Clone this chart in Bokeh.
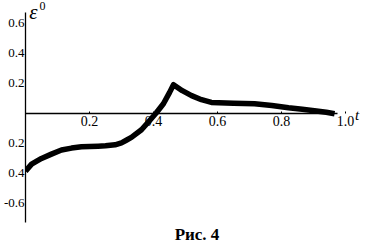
from bokeh.plotting import figure
from bokeh.models import LinearAxis, FixedTicker, Range1d, Label, Title
from bokeh.embed import file_html
from bokeh.resources import INLINE

# data
t = [0.0, 0.019, 0.05, 0.081, 0.1125, 0.144, 0.175, 0.227, 0.25, 0.28, 0.30, 0.315, 0.331, 0.3625,
     0.3875, 0.409, 0.431, 0.45, 0.4625, 0.49, 0.519, 0.55, 0.581, 0.65, 0.716,
     0.77, 0.822, 0.865, 0.903, 0.94, 0.966]
eps = [-0.385, -0.339, -0.301, -0.272, -0.245, -0.232, -0.223, -0.219, -0.217, -0.21, -0.197, -0.18, -0.161, -0.11,
       -0.05, 0.003, 0.063, 0.137, 0.19, 0.15, 0.117, 0.09, 0.072, 0.066, 0.063,
       0.052, 0.037, 0.027, 0.017, 0.007, -0.003]
x_ticks = [0.2, 0.4, 0.6, 0.8, 1.0]
x_tick_labels = ["0.2", "0.4", "0.6", "0.8", "1.0"]
y_ticks = [-0.6, -0.4, -0.2, 0.2, 0.4, 0.6]
y_tick_labels = ["-0.6", "0.4", "0.2", "0.2", "0.4", "0.6"]

FONT = "Liberation Serif"

p = figure(frame_width=343, frame_height=222, output_backend="svg", toolbar_location=None,
           x_range=Range1d(0, 1.072), y_range=Range1d(-0.727, 0.75),
           x_axis_location=None, y_axis_location=None,
           min_border_left=24, min_border_right=0, min_border_top=0, min_border_bottom=0)
p.grid.visible = False
p.outline_line_color = None
p.background_fill_color = "white"
p.border_fill_color = "white"

xa = LinearAxis(fixed_location=0, ticker=FixedTicker(ticks=x_ticks),
                major_label_overrides={k: v for k, v in zip(x_ticks, x_tick_labels)})
xa.bounds = (0, 0.975)
xa.major_tick_in = 2
xa.major_tick_out = 0
xa.minor_tick_line_color = None
xa.major_label_standoff = 3
xa.major_label_text_font = FONT
xa.major_label_text_font_size = "14px"
xa.major_label_text_color = "black"
xa.axis_line_width = 1.3
p.add_layout(xa, "below")

ya = LinearAxis(ticker=FixedTicker(ticks=y_ticks),
                major_label_overrides={k: v for k, v in zip(y_ticks, y_tick_labels)})
ya.bounds = (-0.727, 0.667)
ya.major_tick_in = 0
ya.major_tick_out = 0
ya.minor_tick_line_color = None
ya.major_label_standoff = 1
ya.major_label_text_font = FONT
ya.major_label_text_font_size = "13px"
ya.major_label_text_color = "black"
ya.axis_line_width = 1.3
p.add_layout(ya, "left")

p.line(t, eps, line_width=5.5, line_color="black", line_join="round")

p.add_layout(Label(x=0.012, y=0.595, text="ε", text_font=FONT, text_font_style="italic",
                   text_font_size="21px", text_color="black"))
p.add_layout(Label(x=0.044, y=0.685, text="0", text_font=FONT,
                   text_font_size="12px", text_color="black"))
p.add_layout(Label(x=1.03, y=-0.065, text="t", text_font=FONT, text_font_style="italic",
                   text_font_size="15px", text_color="black"))

p.add_layout(Title(text="Рис. 4", align="center", text_font=FONT, text_font_size="17px",
                   text_font_style="bold", text_color="black", standoff=0), "below")

open("out.html", "w").write(file_html(p, INLINE))
